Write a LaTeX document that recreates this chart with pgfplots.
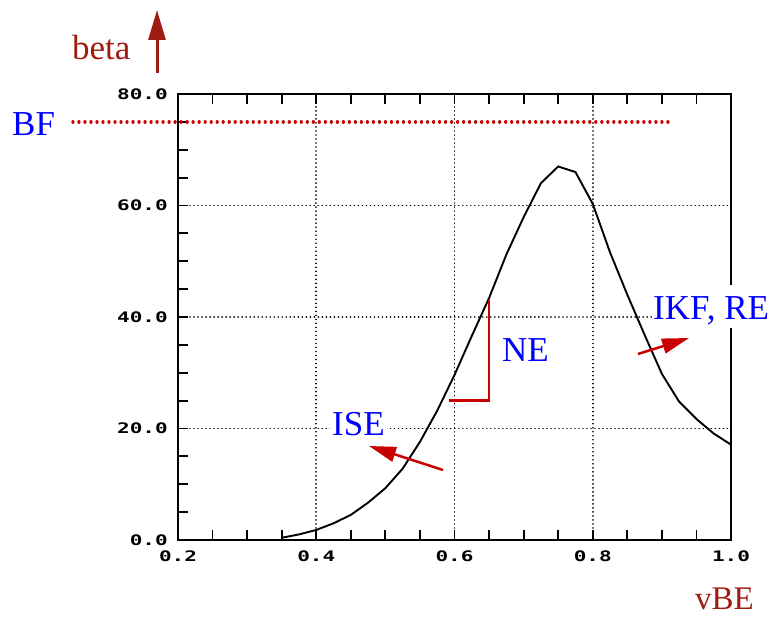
\documentclass[border=0pt]{standalone}
\usepackage{fontspec}
\usepackage{pgfplots}
\pgfplotsset{compat=1.18}
\usetikzlibrary{arrows.meta}
\newfontfamily\tnr{Liberation Serif}
\newfontfamily\tickfont{DejaVu Sans Mono}[FakeStretch=1.45]
\definecolor{lblblue}{RGB}{0,0,255}
\definecolor{dred}{RGB}{160,28,18}
\definecolor{ared}{RGB}{200,0,0}
\begin{document}
\begin{tikzpicture}
\useasboundingbox (-178pt,-76pt) rectangle (600pt,540pt);
\begin{axis}[
  at={(0pt,0pt)}, anchor=south west,
  scale only axis, width=553pt, height=446pt,
  xmin=0.2, xmax=1.0, ymin=0, ymax=80,
  xtick={0.2,0.4,0.6,0.8,1.0}, ytick={0,20,40,60,80},
  minor tick num=3,
  xtick pos=both, ytick pos=left,
  tick align=inside,
  major tick length=10pt, minor tick length=10pt,
  every tick/.style={black, line width=1.8pt},
  axis line style={black, line width=2pt},
  grid=major,
  major grid style={black, line width=1.8pt, line cap=round, dash pattern=on 0.01pt off 4pt},
  ticklabel style={font=\tickfont\bfseries\fontsize{14.5}{15}\selectfont, inner sep=0pt},
  yticklabel style={xshift=-10pt},
  xticklabel style={yshift=-11pt},
  /pgf/number format/fixed,
  /pgf/number format/fixed zerofill,
  /pgf/number format/precision=1,
  /pgf/number format/assume math mode=true,
  clip=false,
]
\addplot[black, line width=1.9pt] coordinates {
(0.35,0.4) (0.375,1.0) (0.4,1.8) (0.425,3.0) (0.45,4.5) (0.475,6.7)
(0.5,9.3) (0.525,12.8) (0.55,17.6) (0.575,23.2) (0.6,29.6) (0.625,36.6)
(0.65,43.4) (0.675,51.2) (0.7,57.9) (0.725,64.0) (0.75,67.0) (0.775,66.0)
(0.8,60.3) (0.825,51.6) (0.85,44.0) (0.875,36.8) (0.9,29.8) (0.925,24.8)
(0.95,21.7) (0.975,19.1) (1.0,17.1)
};
\addplot[ared, line width=3.3pt, line cap=round, dash pattern=on 0.01pt off 6pt] coordinates {(0.048,75) (0.91,75)};
\end{axis}
% annotations
\node[anchor=base west, inner sep=0pt, text=lblblue, font=\tnr\fontsize{35}{40}\selectfont] at (-166pt,404pt) {BF};
\node[anchor=base west, inner sep=0pt, text=dred, font=\tnr\fontsize{35}{40}\selectfont] at (-106pt,480pt) {beta};
\draw[dred, line width=3pt, -{Triangle[length=30pt,width=17pt]}] (-21pt,467pt) -- (-21pt,530pt);
\node[anchor=base west, inner sep=0pt, text=dred, font=\tnr\fontsize{33}{36}\selectfont] at (517pt,-69pt) {vBE};
\draw[ared, line width=2.5pt] (271pt,139.3pt) -- (311pt,139.3pt) -- (311pt,240pt);
\node[anchor=base west, inner sep=0pt, text=lblblue, font=\tnr\fontsize{35}{40}\selectfont] at (324pt,179pt) {NE};
\node[anchor=base west, inner xsep=2pt, inner ysep=3pt, fill=white, text=lblblue, font=\tnr\fontsize{35}{40}\selectfont] at (152pt,105pt) {ISE};
\draw[ared, line width=2.5pt, -{Triangle[length=27pt,width=15pt]}] (265pt,70pt) -- (191pt,94pt);
\fill[white] (474pt,212pt) rectangle (600pt,255pt);
\node[anchor=base west, inner sep=0pt, text=lblblue, font=\tnr\fontsize{35}{40}\selectfont] at (475pt,220pt) {IKF, RE};
\draw[ared, line width=2.5pt, -{Triangle[length=27pt,width=15pt]}] (460pt,186pt) -- (511pt,202pt);
\end{tikzpicture}
\end{document}
